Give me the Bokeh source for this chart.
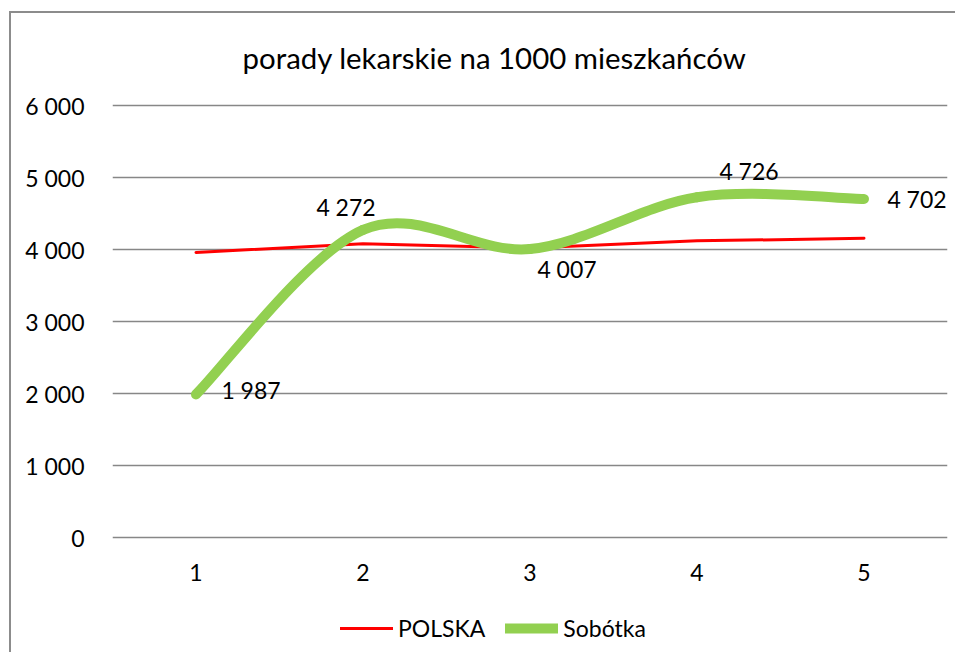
import numpy as np
from bokeh.plotting import figure
from bokeh.models import (FixedTicker, CustomJSTickFormatter, Range1d, Legend,
                          LegendItem, ColumnDataSource, LabelSet, Label)
from bokeh.core.properties import value
from bokeh.embed import file_html
from bokeh.resources import INLINE

# ---- data ----
title_text = "porady lekarskie na 1000 mieszkańców"
x_cats = [1, 2, 3, 4, 5]
polska = [3960, 4080, 4020, 4120, 4155]
sobotka = [1987, 4272, 4007, 4726, 4702]
y_ticks = [0, 1000, 2000, 3000, 4000, 5000, 6000]
series_names = ["POLSKA", "Sobótka"]

# data-label offsets in pixels (layout only)
label_dx = [55, -17, 37, 52, 53]
label_dy = [4, 23, -20, 26, 0]

FONT = "Lato"
RED = "#FF0000"
GREEN = "#92D050"
GRID = "#878787"

# ---- layout (pixels) ----
W, H = 955, 652
FRAME_L, FRAME_R = 112, 947
Y_TOP_PX, Y_ZERO_PX = 105, 537          # pixel rows of 6000 and 0
Y_MAX = y_ticks[-1]
SCALE = (Y_ZERO_PX - Y_TOP_PX) / Y_MAX  # px per unit
X_LO, X_HI = x_cats[0] - 0.5, x_cats[-1] + 0.5


def px_to_x(px):
    return X_LO + (px - FRAME_L) / (FRAME_R - FRAME_L) * (X_HI - X_LO)


def py_to_y(py):
    return (Y_ZERO_PX - py) / SCALE


def fmt(v):
    return f"{int(v):,}".replace(",", " ")


p = figure(width=W, height=H, output_backend="svg", toolbar_location=None,
           x_range=Range1d(X_LO, X_HI), y_range=Range1d(py_to_y(H), py_to_y(0)),
           x_axis_location=None, title_location=None,
           min_border_left=FRAME_L, min_border_right=W - FRAME_R,
           min_border_top=0, min_border_bottom=0)
p.styles = {"box-shadow": "inset 9px 11px 0 0 #ffffff, inset 11px 13px 0 0 #8c8c8c"}
p.outline_line_color = None
p.background_fill_color = None
p.border_fill_color = None

# y axis
p.yaxis.ticker = FixedTicker(ticks=y_ticks)
p.yaxis.formatter = CustomJSTickFormatter(
    code="return tick.toString().replace(/\\B(?=(\\d{3})+(?!\\d))/g, ' ');")
p.yaxis.axis_line_color = None
p.yaxis.major_tick_line_color = None
p.yaxis.minor_tick_line_color = None
p.yaxis.major_label_text_font = FONT
p.yaxis.major_label_text_font_size = "23px"
p.yaxis.major_label_text_color = "#000000"
p.yaxis.major_label_standoff = 22

p.xgrid.grid_line_color = None
p.ygrid.ticker = FixedTicker(ticks=y_ticks)
p.ygrid.grid_line_color = GRID
p.ygrid.grid_line_width = 1.5

# title
p.add_layout(Label(x=px_to_x(494), y=py_to_y(57), text=title_text,
                   text_align="center", text_baseline="middle",
                   text_font=FONT, text_font_size="29.4px", text_color="#000000"))

# category labels (x axis)
xl_src = ColumnDataSource(dict(x=x_cats, y=[0] * len(x_cats),
                               t=[str(c) for c in x_cats]))
p.add_layout(LabelSet(x="x", y="y", text="t", source=xl_src, y_offset=-35,
                      text_align="center", text_baseline="middle",
                      text_font=value(FONT), text_font_size="23px",
                      text_color="#000000"))

# POLSKA line
r_red = p.line(x=x_cats, y=polska, line_color=RED, line_width=3,
               line_cap="round", line_join="round")

# Sobotka smoothed line (Catmull-Rom style bezier from data)
xs = np.array(x_cats, dtype=float)
ys = np.array(sobotka, dtype=float)
px = np.concatenate([[xs[0]], xs, [xs[-1]]])
py = np.concatenate([[ys[0]], ys, [ys[-1]]])
n = len(xs)
bez = dict(x0=[], y0=[], x1=[], y1=[], cx0=[], cy0=[], cx1=[], cy1=[])
for i in range(n - 1):
    bez["x0"].append(px[i + 1]); bez["y0"].append(py[i + 1])
    bez["x1"].append(px[i + 2]); bez["y1"].append(py[i + 2])
    bez["cx0"].append(px[i + 1] + (px[i + 2] - px[i]) / 6)
    bez["cy0"].append(py[i + 1] + (py[i + 2] - py[i]) / 6)
    bez["cx1"].append(px[i + 2] - (px[i + 3] - px[i + 1]) / 6)
    bez["cy1"].append(py[i + 2] - (py[i + 3] - py[i + 1]) / 6)
r_green = p.bezier(x0="x0", y0="y0", x1="x1", y1="y1", cx0="cx0", cy0="cy0",
                   cx1="cx1", cy1="cy1", source=ColumnDataSource(bez),
                   line_color=GREEN, line_width=10, line_cap="round")

# data labels
lab_src = ColumnDataSource(dict(x=x_cats, y=sobotka, t=[fmt(v) for v in sobotka],
                                dx=label_dx, dy=label_dy))
p.add_layout(LabelSet(x="x", y="y", text="t", source=lab_src,
                      x_offset="dx", y_offset="dy", text_align="center",
                      text_baseline="middle", text_font=value(FONT),
                      text_font_size="23px", text_color="#000000"))

legend = Legend(items=[LegendItem(label=series_names[0], renderers=[r_red]),
                       LegendItem(label=series_names[1], renderers=[r_green])],
                orientation="horizontal", location=(228, 10),
                glyph_width=53, glyph_height=20, label_standoff=5, spacing=20,
                border_line_color=None, background_fill_alpha=0,
                label_text_font=FONT, label_text_font_size="23px",
                label_text_color="#000000", padding=0, margin=0)
p.add_layout(legend)

open("out.html", "w").write(file_html(p, INLINE))
